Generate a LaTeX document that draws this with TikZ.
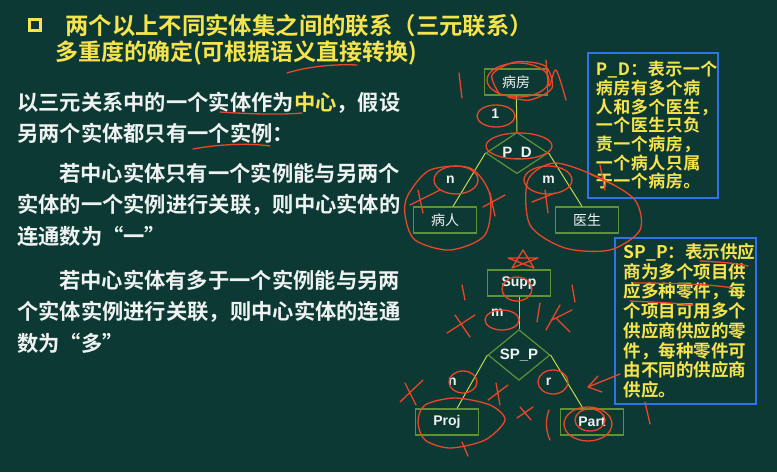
\documentclass[tikz,border=0pt]{standalone}
\usepackage{fontspec}
\setmainfont{Noto Sans CJK SC}[BoldFont={* Bold}]
\newfontfamily\labelfont{Liberation Sans}
\usetikzlibrary{shapes.geometric}
\definecolor{board}{RGB}{13,57,53}
\definecolor{chalky}{RGB}{246,228,76}
\definecolor{chalkw}{RGB}{238,242,240}
\definecolor{boxblue}{RGB}{45,115,235}
\definecolor{entgreen}{RGB}{95,145,55}
\definecolor{linkgreen}{RGB}{195,215,80}
\definecolor{ink}{RGB}{235,70,40}

\begin{document}
\begin{tikzpicture}[x=1pt,y=-1pt,
    ent/.style={draw=entgreen,line width=1.2pt,minimum width=63pt,minimum height=26pt,inner sep=0pt,text=chalkw,font=\fontsize{14}{14}\selectfont},
    rel/.style={diamond,draw=entgreen,line width=1.2pt,minimum width=62pt,minimum height=34pt,inner sep=0pt,text=chalkw,font=\labelfont\fontsize{15}{15}\selectfont\bfseries},
    link/.style={draw=linkgreen,line width=1pt},
    card/.style={text=chalkw,font=\labelfont\fontsize{14}{14}\selectfont\bfseries,inner sep=1pt},
    para/.style={text=chalkw,anchor=base west,inner sep=0pt,text width=395pt,align=left,font=\fontsize{21.3}{31.5}\selectfont\bfseries},
    note/.style={draw=boxblue,line width=1.6pt,text=chalky,anchor=north west,align=left,inner ysep=0pt},
    redink/.style={draw=ink,line width=1.3pt,line cap=round,line join=round}]
  \fill[board] (0,0) rectangle (777,472);
  \useasboundingbox (0,0) rectangle (777,472);

  \node[draw=chalky,line width=2.4pt,minimum size=11pt,inner sep=0pt] (bullet) at (35,25) {};
  \node[text=chalky,anchor=base west,inner sep=0pt,font=\fontsize{23.4}{23.4}\selectfont\bfseries] (title) at (65,34.5) {两个以上不同实体集之间的联系（三元联系）};
  \node[text=chalky,anchor=base west,inner sep=0pt,font=\fontsize{23}{23}\selectfont\bfseries] (subtitle) at (55,60.5) {多重度的确定(可根据语义直接转换)};

  \node[para] (centre) at (17,110) {以三元关系中的一个实体作为\textcolor{chalky}{中心}，假设\\另两个实体都只有一个实例：};
  \node[para] (one) at (17,181) {\hspace*{42pt}若中心实体只有一个实例能与另两个\\实体的一个实例进行关联，则中心实体的\\连通数为“一”};
  \node[para] (many) at (17,288) {\hspace*{42pt}若中心实体有多于一个实例能与另两\\个实体实例进行关联，则中心实体的连通\\数为“多”};

  \node[ent] (room) at (516,82) {病房};
  \node[rel] (pd) at (517,153) {P\_D};
  \node[ent] (patient) at (445,220) {病人};
  \node[ent] (doctor) at (587,220) {医生};
  \draw[link] (room) -- (pd.north) node[card,pos=.5,left=16pt] {1};
  \draw[link] (pd.west) -- ([xshift=8pt]patient.north) node[card,pos=.5,left=13pt] {n};
  \draw[link] (pd.east) -- ([xshift=-5pt]doctor.north) node[card,pos=.5,left=9pt] {m};

  \node[ent,font=\labelfont\fontsize{14}{14}\selectfont\bfseries] (supp) at (519,283) {Supp};
  \node[rel] (spp) at (519,355) {SP\_P};
  \node[ent,font=\labelfont\fontsize{14}{14}\selectfont\bfseries] (proj) at (447,422) {Proj};
  \node[ent,font=\labelfont\fontsize{14}{14}\selectfont\bfseries] (part) at (592,422) {Part};
  \draw[link] (supp) -- (spp.north) node[card,pos=.5,left=14pt] {m};
  \draw[link] (spp.west) -- ([xshift=10pt]proj.north) node[card,pos=.5,left=14pt] {n};
  \draw[link] (spp.east) -- ([xshift=-9pt]part.north) node[card,pos=.5,left=14pt] {r};

  \node[note,text width=114pt,minimum height=145pt,inner xsep=8pt,font=\fontsize{17}{18.7}\selectfont\bfseries\addfontfeature{LetterSpace=3}] (pdnote) at (587,52)
    {P\_D：表示一个\\病房有多个病\\人和多个医生，\\一个医生只负\\责一个病房，\\一个病人只属\\于一个病房。};
  \node[note,text width=123pt,minimum height=166pt,inner xsep=9pt,font=\fontsize{17.5}{19.7}\selectfont\bfseries] (sppnote) at (614,237)
    {SP\_P：表示供应\\商为多个项目供\\应多种零件，每\\个项目可用多个\\供应商供应的零\\件，每种零件可\\由不同的供应商\\供应。};

  % hand marks
  \draw[redink] (287,73) .. controls (310,66) and (335,64) .. (357,65);
  \draw[redink] (220,112) .. controls (250,114) and (280,115) .. (302,113);
  \draw[redink] (193,149) .. controls (220,144) and (250,143) .. (270,146);
  \draw[redink] (518,80) ellipse (31 and 17);
  \draw[redink] plot[smooth] coordinates {(500,95) (492,75) (515,62) (545,66) (552,88) (530,100) (508,97)};
  \draw[redink] (496,116) ellipse (19 and 11);
  \draw[redink] (519,146) ellipse (33 and 13);
  \draw[redink] (459,73) -- (462,98);
  \draw[redink] plot[smooth] coordinates {(546,60) (549,86) (556,70) (566,100)};
  \draw[redink] (456,180) ellipse (22 and 14);
  \draw[redink] plot[smooth cycle] coordinates {(408,195) (430,170) (470,168) (490,195) (485,235) (450,250) (415,240) (405,215)};
  \draw[redink] (410,205) -- (440,190) (418,190) -- (423,213);
  \draw[redink] (483,207) -- (505,195) (490,193) -- (495,216);
  \draw[redink] (548,180) ellipse (24 and 14);
  \draw[redink] plot[smooth cycle] coordinates {(528,180) (555,163) (600,178) (635,200) (640,230) (610,250) (565,248) (530,225)};
  \draw[redink] (532,202) -- (555,193) (545,190) -- (548,213);
  \draw[redink] (590,174) -- (614,185) (600,165) -- (605,190);
  \draw[redink] (512,268) -- (523,250) -- (534,268) -- (508,258) -- (538,258) -- cycle;
  \draw[redink] (517,289) ellipse (15 and 12);
  \draw[redink] (462,285) -- (465,300) (572,285) -- (575,302);
  \draw[redink] (502,320) ellipse (17 and 10);
  \draw[redink] (447,333) -- (475,315) (455,315) -- (470,337);
  \draw[redink] (537,322) -- (540,303) (546,330) -- (560,305) (552,320) -- (572,310) (556,318) -- (570,332);
  \draw[redink] (463,382) ellipse (14 and 11);
  \draw[redink] (553,382) ellipse (15 and 12);
  \draw[redink] (400,402) -- (423,380) (405,383) -- (416,405);
  \draw[redink] (488,400) -- (508,385) (496,383) -- (500,405);
  \draw[redink] (517,418) -- (533,407) (520,407) -- (531,420);
  \draw[redink] (549,410) .. controls (545,420) and (546,432) .. (550,440);
  \draw[redink] plot[smooth cycle] coordinates {(425,405) (455,398) (490,405) (505,420) (485,440) (450,448) (425,440) (418,422)};
  \draw[redink] (462,442) -- (468,456);
  \draw[redink] (588,424) ellipse (24 and 17);
  \draw[redink] (590,420) ellipse (15 and 11);
  \draw[redink] (620,374) -- (588,387) (598,376) -- (588,387) -- (602,392);
  \draw[redink] (645,402) -- (650,424);
  \draw[redink] (700,261) .. controls (720,262) and (735,263) .. (748,266);
  \draw[redink] (633,283) .. controls (670,283) and (710,284) .. (733,288);
  \draw[redink] (630,301) .. controls (650,302) and (675,303) .. (693,305);
\end{tikzpicture}
\end{document}
